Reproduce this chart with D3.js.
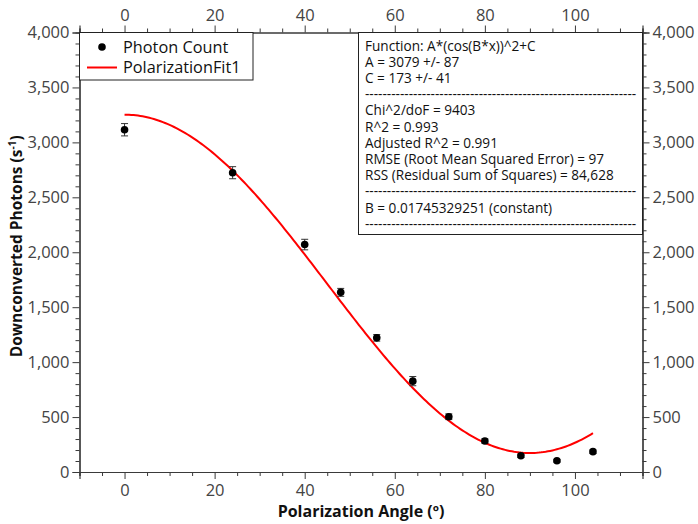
<!DOCTYPE html>
<html>
<head>
<meta charset="utf-8">
<script src="https://cdn.jsdelivr.net/npm/d3@7"></script>
<style>
  html, body { margin: 0; padding: 0; background: #fff; }
  svg { display: block; font-family: "Open Sans", "Noto Sans", sans-serif; }
</style>
</head>
<body>
<svg id="chart" width="698" height="524"></svg>
<script>
// Measured photon counts versus polarizer angle
const angles = [0, 24, 40, 48, 56, 64, 72, 80, 88, 96, 104];
const counts = [3115, 2724, 2070, 1635, 1221, 827, 503, 282, 148, 103, 185];
const errors = [56, 55, 48, 36, 30, 42, 26, 20, 15, 12, 15];

// Fit parameters of A*(cos(B*x))^2 + C
const fitA = 3079;
const fitC = 173;
const fitB = 0.01745329251;
const fitRange = [0, 104];

// Axis ticks
const xTicks = [0, 20, 40, 60, 80, 100];
const yTicks = [0, 500, 1000, 1500, 2000, 2500, 3000, 3500, 4000];

const legendLabels = ["Photon Count", "PolarizationFit1"];
const separator = "-".repeat(62);
const fitReport = [
  "Function: A*(cos(B*x))^2+C",
  "A = 3079 +/- 87",
  "C = 173 +/- 41",
  separator,
  "Chi^2/doF = 9403",
  "R^2 = 0.993",
  "Adjusted R^2 = 0.991",
  "RMSE (Root Mean Squared Error) = 97",
  "RSS (Residual Sum of Squares) = 84,628",
  separator,
  "B = 0.01745329251 (constant)",
  separator
];

const svg = d3.select("#chart");
const L = 79.5, R = 642.5, T = 32.5, B = 472;

const x = d3.scaleLinear().domain([-10, 115]).range([L, R]);
const y = d3.scaleLinear().domain([0, 4000]).range([B, T]);

const axisColor = "#3a3a3a";
const labelColor = "#444";
const tickFont = 16.5;

function styleAxis(g) {
  g.selectAll("path.domain").attr("stroke", axisColor).attr("stroke-width", 1.2);
  g.selectAll(".tick line").attr("stroke", axisColor).attr("stroke-width", 1);
  g.selectAll(".tick text").attr("fill", labelColor)
    .style("font-size", tickFont + "px")
    .style("font-family", "'Open Sans', 'Noto Sans', sans-serif");
}

const xMinor = d3.range(-10, 116, 5).filter(v => !xTicks.includes(v));
const yMinor = d3.range(0, 4001, 100).filter(v => !yTicks.includes(v));

// Minor ticks first, then major axes over them
svg.append("g").attr("transform", `translate(0,${B})`)
  .call(d3.axisBottom(x).tickValues(xMinor).tickSize(4).tickFormat(""))
  .call(styleAxis);
svg.append("g").attr("transform", `translate(0,${T})`)
  .call(d3.axisTop(x).tickValues(xMinor).tickSize(4).tickFormat(""))
  .call(styleAxis);
svg.append("g").attr("transform", `translate(${L},0)`)
  .call(d3.axisLeft(y).tickValues(yMinor).tickSize(4).tickFormat(""))
  .call(styleAxis);
svg.append("g").attr("transform", `translate(${R},0)`)
  .call(d3.axisRight(y).tickValues(yMinor).tickSize(4).tickFormat(""))
  .call(styleAxis);

const fmt = d3.format(",");
svg.append("g").attr("transform", `translate(0,${B})`)
  .call(d3.axisBottom(x).tickValues(xTicks).tickSize(7).tickPadding(5).tickFormat(d3.format("d")))
  .call(styleAxis);
svg.append("g").attr("transform", `translate(0,${T})`)
  .call(d3.axisTop(x).tickValues(xTicks).tickSize(7).tickPadding(5).tickFormat(d3.format("d")))
  .call(styleAxis);
svg.append("g").attr("transform", `translate(${L},0)`)
  .call(d3.axisLeft(y).tickValues(yTicks).tickSize(7).tickPadding(3).tickFormat(fmt))
  .call(styleAxis);
svg.append("g").attr("transform", `translate(${R},0)`)
  .call(d3.axisRight(y).tickValues(yTicks).tickSize(7).tickPadding(3).tickFormat(fmt))
  .call(styleAxis);

// Axis titles
svg.append("text")
  .attr("x", (L + R) / 2).attr("y", 517)
  .attr("text-anchor", "middle")
  .style("font-size", "16px").style("font-weight", "bold").attr("fill", "#111")
  .text("Polarization Angle (º)");

const yTitle = svg.append("text")
  .attr("transform", `translate(22,${(T + B) / 2 - 6}) rotate(-90)`)
  .attr("text-anchor", "middle")
  .style("font-size", "15.5px").style("font-weight", "bold").attr("fill", "#111");
yTitle.append("tspan").text("Downconverted Photons (s");
yTitle.append("tspan").attr("dy", -6).style("font-size", "10px").text("-1");
yTitle.append("tspan").attr("dy", 6).text(")");

// Fit curve
const fitData = d3.range(fitRange[0], fitRange[1] + 0.001, 0.5)
  .map(a => [a, fitA * Math.pow(Math.cos(fitB * a), 2) + fitC]);
svg.append("path")
  .datum(fitData)
  .attr("fill", "none")
  .attr("stroke", "#ff0000")
  .attr("stroke-width", 2)
  .attr("d", d3.line().x(d => x(d[0])).y(d => y(d[1])));

// Error bars and points
const pts = angles.map((a, i) => ({ a, c: counts[i], e: errors[i] }));
const eb = svg.append("g").attr("stroke", "#333").attr("stroke-width", 1);
eb.selectAll("line.v").data(pts).join("line")
  .attr("x1", d => x(d.a)).attr("x2", d => x(d.a))
  .attr("y1", d => y(d.c - d.e)).attr("y2", d => y(d.c + d.e));
eb.selectAll("line.top").data(pts).join("line")
  .attr("x1", d => x(d.a) - 3.5).attr("x2", d => x(d.a) + 3.5)
  .attr("y1", d => y(d.c + d.e)).attr("y2", d => y(d.c + d.e));
eb.selectAll("line.bot").data(pts).join("line")
  .attr("x1", d => x(d.a) - 3.5).attr("x2", d => x(d.a) + 3.5)
  .attr("y1", d => y(d.c - d.e)).attr("y2", d => y(d.c - d.e));
svg.append("g").selectAll("circle").data(pts).join("circle")
  .attr("cx", d => x(d.a)).attr("cy", d => y(d.c))
  .attr("r", 3.8).attr("fill", "#000");

// Legend
const leg = svg.append("g");
leg.append("rect").attr("x", L).attr("y", T).attr("width", 253 - L).attr("height", 80 - T)
  .attr("fill", "#fff").attr("stroke", "#222").attr("stroke-width", 1);
leg.append("circle").attr("cx", 102).attr("cy", 47).attr("r", 3.8).attr("fill", "#000");
leg.append("line").attr("x1", 87).attr("x2", 117).attr("y1", 67.5).attr("y2", 67.5)
  .attr("stroke", "#ff0000").attr("stroke-width", 2);
leg.selectAll("text").data(legendLabels).join("text")
  .attr("x", 123).attr("y", (d, i) => 52.5 + i * 20.5)
  .style("font-size", "16.3px").attr("fill", "#111")
  .text(d => d);

// Fit report box
const box = svg.append("g");
box.append("rect").attr("x", 358.5).attr("y", T).attr("width", R - 358.5).attr("height", 234.5 - T)
  .attr("fill", "#fff").attr("stroke", "#222").attr("stroke-width", 1);
box.selectAll("text").data(fitReport).join("text")
  .attr("x", 365)
  .attr("y", (d, i) => 50.5 + i * 16.2)
  .style("font-size", "13.6px").attr("fill", "#111")
  .text(d => d);
</script>
</body>
</html>
